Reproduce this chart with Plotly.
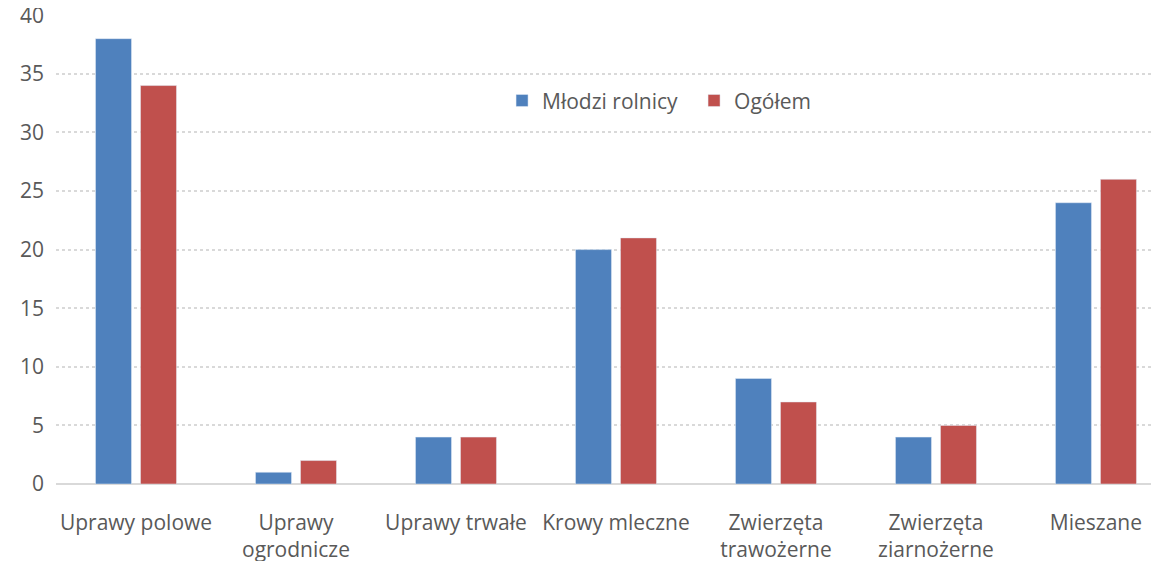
import plotly.graph_objects as go

categories = ["Uprawy polowe", "Uprawy<br>ogrodnicze", "Uprawy trwałe", "Krowy mleczne",
              "Zwierzęta<br>trawożerne", "Zwierzęta<br>ziarnożerne", "Mieszane"]
mlodzi = [38, 1, 4, 20, 9, 4, 24]
ogolem = [34, 2, 4, 21, 7, 5, 26]
yticks = [0, 5, 10, 15, 20, 25, 30, 35, 40]

FONT = "Open Sans, Noto Sans, sans-serif"
TXT = "#595959"
fig = go.Figure()
fig.add_trace(go.Bar(x=list(range(len(categories))), y=mlodzi, name="Młodzi rolnicy", marker_color="#4F81BD"))
fig.add_trace(go.Bar(x=list(range(len(categories))), y=ogolem, name="Ogółem", marker_color="#C0504D"))

# page body has an 8px margin, so the figure is sized/offset to compensate
fig.update_layout(
    width=1151, height=553,
    margin=dict(l=48, r=0, t=7, b=77),
    paper_bgcolor="white", plot_bgcolor="white",
    barmode="group", bargap=0.4375, bargroupgap=0.2,
    font=dict(family=FONT, size=21, color=TXT),
    legend=dict(orientation="h", x=0.4044, y=0.817, xanchor="left", yanchor="middle",
                font=dict(size=21, color=TXT), bgcolor="rgba(0,0,0,0)",
                itemwidth=30, traceorder="normal", entrywidth=147, entrywidthmode="pixels"),
    xaxis=dict(tickmode="array", tickvals=list(range(len(categories))), ticktext=categories,
               range=[-0.5, 6.394], showgrid=False, showline=False, ticks="",
               ticklabelstandoff=24, automargin=False,
               tickfont=dict(size=21, color=TXT), fixedrange=True),
    yaxis=dict(range=[0, 40.02], tickvals=yticks, showgrid=True, gridcolor="#D9D9D9",
               griddash="dot", gridwidth=1.5, zeroline=True, zerolinecolor="#D9D9D9",
               zerolinewidth=2, ticks="", ticklabelstandoff=11, ticklabeloverflow="allow",
               automargin=False, tickfont=dict(size=21, color=TXT)),
)
fig.write_html("out.html")
